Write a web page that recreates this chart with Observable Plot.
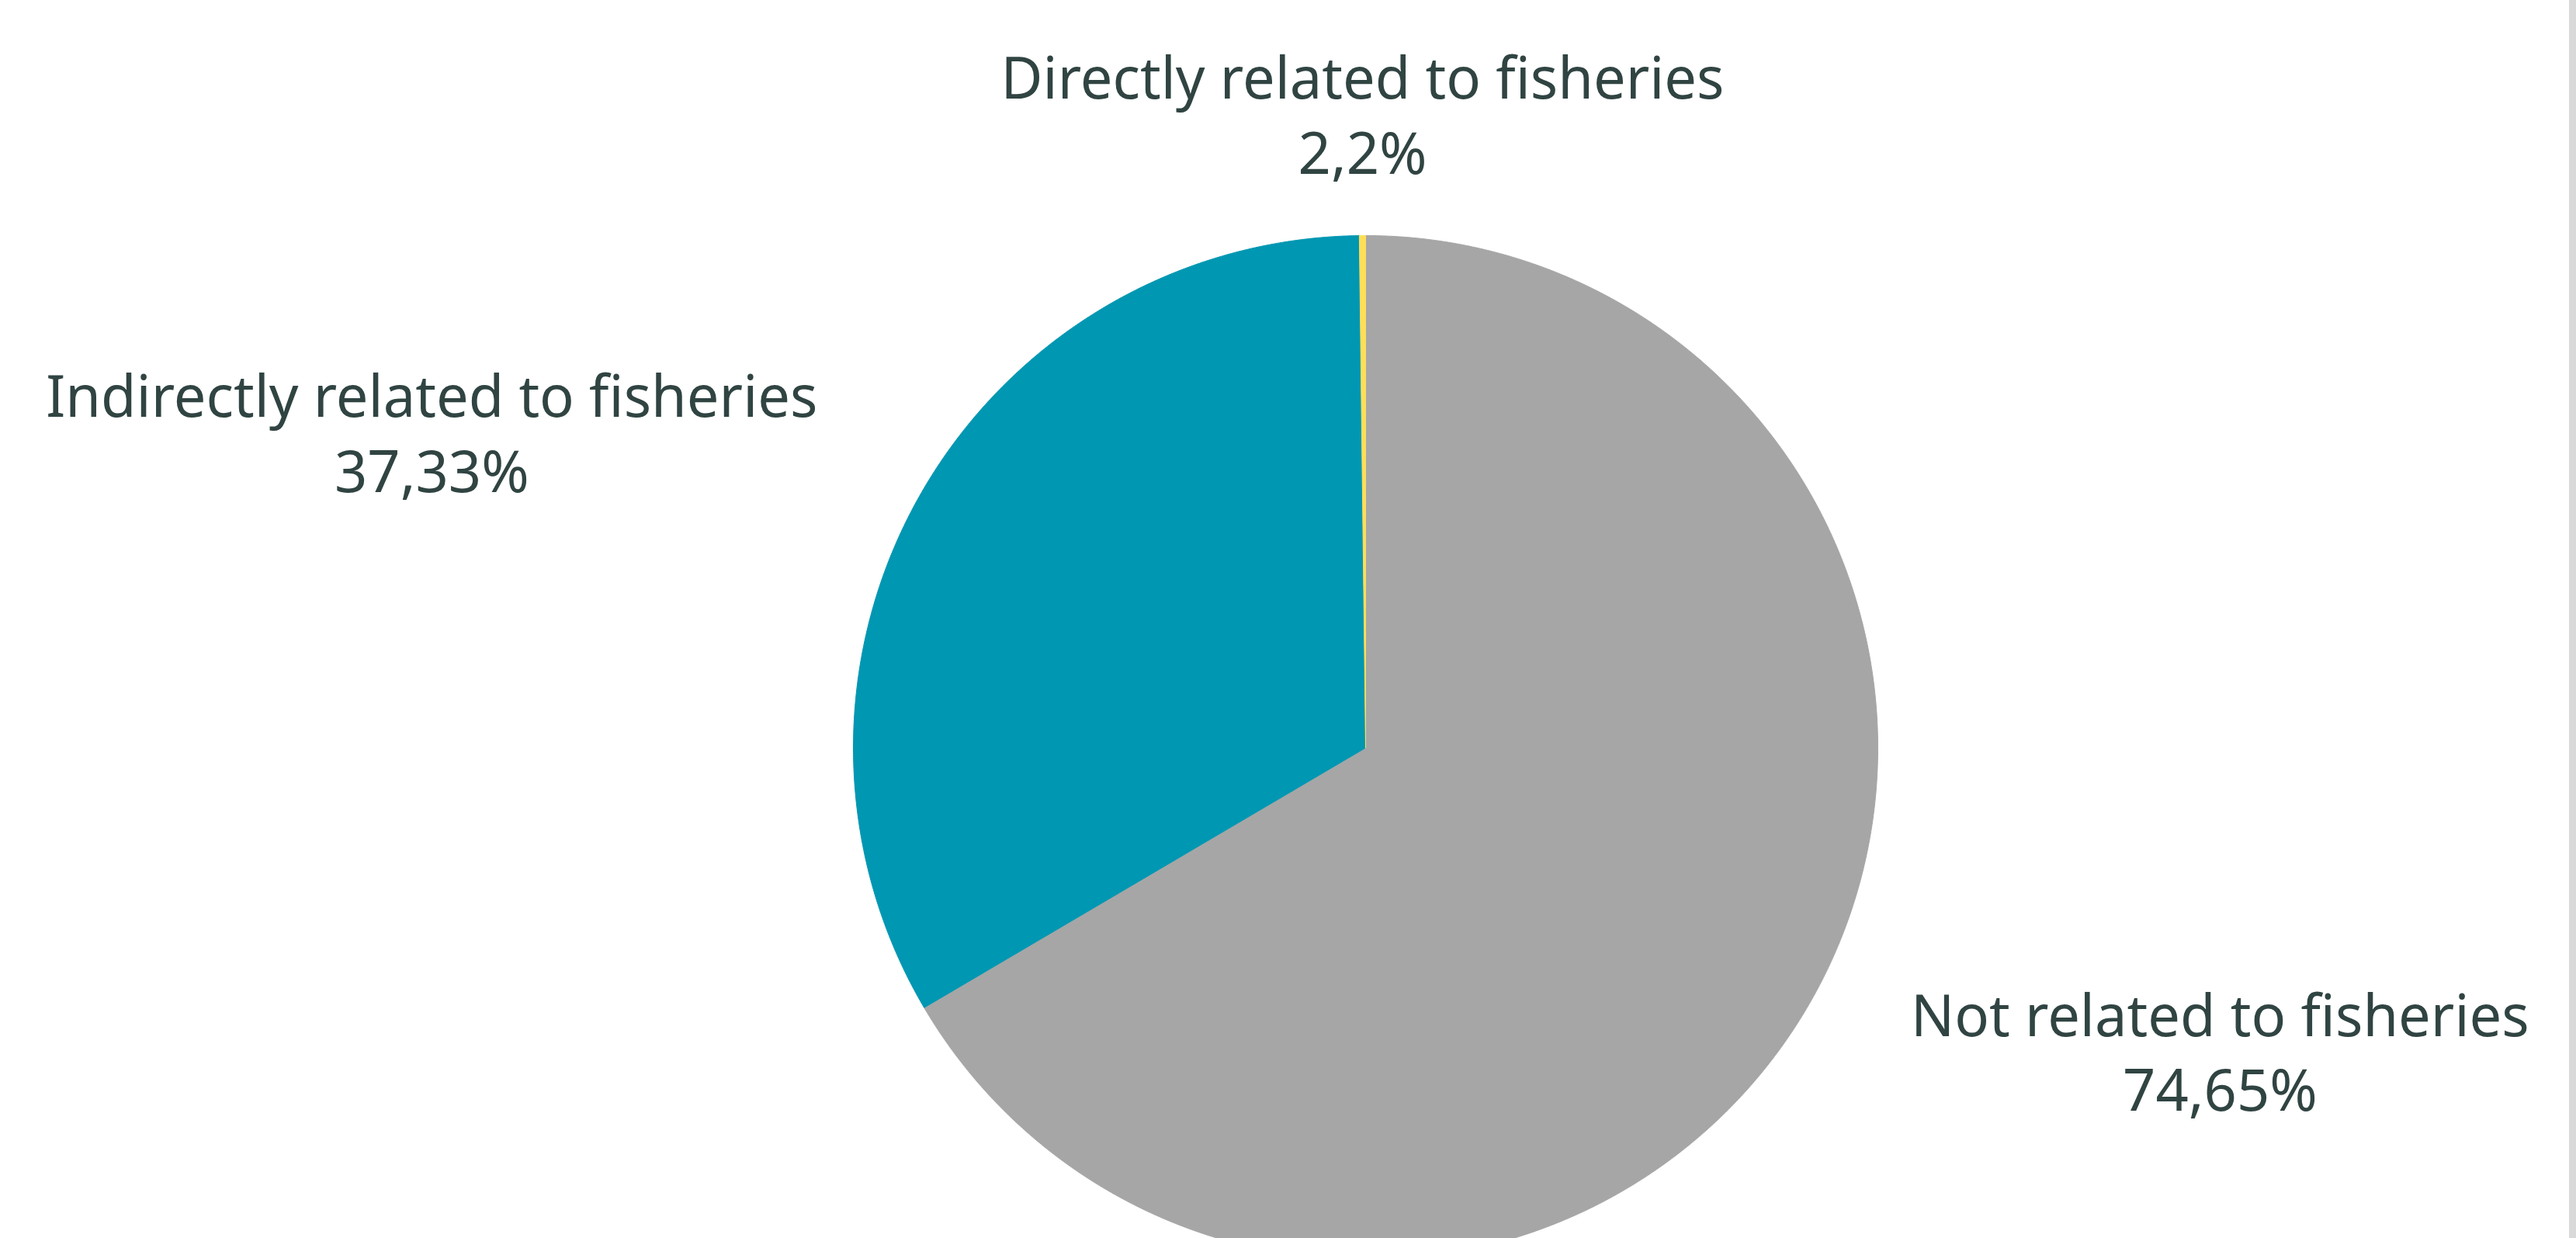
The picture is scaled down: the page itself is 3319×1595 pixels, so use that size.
<!DOCTYPE html>
<html>
<head>
<meta charset="utf-8">
<script src="https://cdn.jsdelivr.net/npm/d3@7"></script>
<script src="https://cdn.jsdelivr.net/npm/@observablehq/plot@0.6"></script>
<style>
  html, body { margin: 0; padding: 0; background: #fff; overflow: hidden; }
  #wrap { width: 3310px; height: 1595px; border-right: 9px solid #d9d9d9; }
  svg text { font-variant-ligatures: none; }
</style>
</head>
<body>
<div id="wrap"></div>
<script>
// ---- data (clockwise from 12 o'clock) ----
const categories = ["Not related to fisheries", "Indirectly related to fisheries", "Directly related to fisheries"];
const values = [74.65, 37.33, 0.22];
const valueLabels = ["74,65%", "37,33%", "2,2%"];
const colors = ["#a6a6a6", "#0097b2", "#ffde59"];

// ---- layout ----
const W = 3310, H = 1595;
const CX = 1759, CY = 963, R = 660;            // pie centre & radius in px
// label anchor (baseline of value line), in pie-radius units
const labelAnchors = [[1.668, -0.709], [-1.823, 0.5], [-0.006, 1.121]];

const arcs = d3.pie().sort(null).value(d => d)(values);
const slicePts = [];
arcs.forEach((a, i) => {
  const cat = categories[i];
  slicePts.push({cat, x: 0, y: 0});
  const n = Math.max(2, Math.ceil((a.endAngle - a.startAngle) / (Math.PI / 720)));
  for (let k = 0; k <= n; k++) {
    const t = a.startAngle + (a.endAngle - a.startAngle) * k / n;
    slicePts.push({cat, x: Math.sin(t), y: Math.cos(t)});
  }
  slicePts.push({cat, x: 0, y: 0});
});

const labels = categories.map((c, i) => ({
  cat: c, text: c + "\n" + valueLabels[i], x: labelAnchors[i][0], y: labelAnchors[i][1]
}));

const chart = Plot.plot({
  width: W, height: H,
  margin: 0,
  style: {background: "#fff"},
  x: {domain: [-CX / R, (W - CX) / R], axis: null},
  y: {domain: [-(H - CY) / R, CY / R], axis: null},
  color: {domain: categories, range: colors},
  marks: [
    Plot.line(slicePts, {x: "x", y: "y", z: "cat", fill: "cat", stroke: "cat", strokeWidth: 1, curve: "linear", clip: true}),
    Plot.text(labels, {
      x: "x", y: "y", text: "text",
      textAnchor: "middle", lineAnchor: "bottom", lineHeight: 1.30,
      fontSize: 74, fontFamily: "'Noto Sans', sans-serif", fill: "#304442"
    })
  ]
});
document.getElementById("wrap").appendChild(chart);
</script>
</body>
</html>
